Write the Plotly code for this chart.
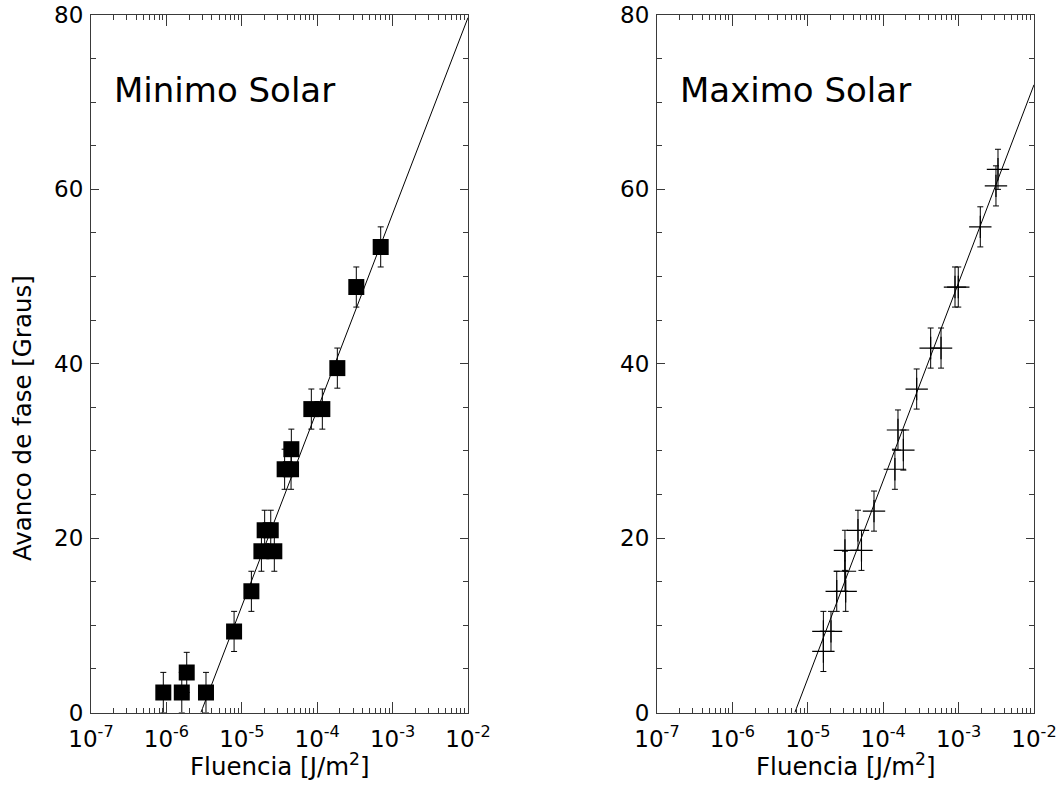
import numpy as np
import plotly.graph_objects as go

# ---- Minimo Solar: fluence [J/m^2] vs phase advance [degrees] ----
min_fluence = [9.1e-7, 1.6e-6, 1.86e-6, 3.35e-6, 7.9e-6, 1.34e-5, 1.82e-5, 2.7e-5,
               2.01e-5, 2.42e-5, 3.7e-5, 4.5e-5, 4.54e-5, 8.36e-5, 1.17e-4, 1.85e-4,
               3.3e-4, 6.95e-4]
min_phase = [2.3, 2.3, 4.6, 2.3, 9.3, 13.9, 18.5, 18.5, 20.9, 20.9, 27.9, 27.9,
             30.2, 34.8, 34.8, 39.5, 48.8, 53.4]
min_err = [2.3] * len(min_phase)
min_fit = (124.7, 22.5)  # intercept, slope per decade

# ---- Maximo Solar ----
max_fluence = [1.61e-5, 1.61e-5, 2.03e-5, 2.42e-5, 3.18e-5, 3.11e-5, 3.11e-5, 5.15e-5,
               4.63e-5, 7.55e-5, 1.43e-4, 1.57e-4, 1.85e-4, 2.78e-4, 4.26e-4, 5.85e-4,
               8.96e-4, 9.9e-4, 1.94e-3, 3.13e-3, 3.33e-3]
max_phase = [7.0, 9.3, 9.3, 13.9, 13.9, 16.2, 18.6, 18.6, 20.9, 23.1, 27.9, 32.4,
             30.1, 37.1, 41.8, 41.8, 48.8, 48.8, 55.7, 60.4, 62.3]
max_err = [2.3] * len(max_phase)
max_fit = (117.4, 22.7)

x_tickvals = [1e-7, 1e-6, 1e-5, 1e-4, 1e-3, 1e-2]
x_ticktext = ["10<sup>-7</sup>", "10<sup>-6</sup>", "10<sup>-5</sup>",
              "10<sup>-4</sup>", "10<sup>-3</sup>", "10<sup>-2</sup>"]
y_tickvals = [0, 20, 40, 60, 80]

FONT = "DejaVu Sans"
AX = "#3a3a3a"


def fit_line(fit, x_end=1e-2):
    a, b = fit
    lx = np.linspace(-a / b, np.log10(x_end), 50)
    return 10 ** lx, a + b * lx


fig = go.Figure()

# left panel
fig.add_trace(go.Scatter(
    x=min_fluence, y=min_phase, mode="markers",
    marker=dict(symbol="square", size=16, color="black"),
    error_y=dict(type="data", array=min_err, color="black", thickness=1, width=3),
    xaxis="x", yaxis="y", showlegend=False))
fx, fy = fit_line(min_fit)
fig.add_trace(go.Scatter(x=fx, y=fy, mode="lines", line=dict(color="black", width=1),
                         xaxis="x", yaxis="y", showlegend=False))

# right panel
fig.add_trace(go.Scatter(
    x=max_fluence, y=max_phase, mode="markers",
    marker=dict(symbol="cross-thin", size=16, color="black",
                line=dict(color="black", width=1.2)),
    error_y=dict(type="data", array=max_err, color="black", thickness=1, width=3),
    xaxis="x2", yaxis="y2", showlegend=False))
fx, fy = fit_line(max_fit)
fig.add_trace(go.Scatter(x=fx, y=fy, mode="lines", line=dict(color="black", width=1),
                         xaxis="x2", yaxis="y2", showlegend=False))

y_lo, y_hi = 1 - 712.5 / 785, 1 - 15 / 785


def xaxis(domain, anchor):
    return dict(domain=domain, anchor=anchor, type="log", range=[-7, -2],
                tickvals=x_tickvals, ticktext=x_ticktext, automargin=False,
                ticks="inside", ticklen=11, tickwidth=1, tickcolor=AX,
                minor=dict(ticks="inside", ticklen=5, tickwidth=1, tickcolor=AX, dtick="D1"),
                showline=True, linecolor=AX, linewidth=1, mirror="ticks",
                showgrid=False, zeroline=False, ticklabelstandoff=6,
                tickfont=dict(family=FONT, size=23, color="black"))


def yaxis(anchor):
    return dict(domain=[y_lo, y_hi], anchor=anchor, range=[0, 80], automargin=False,
                tickvals=y_tickvals, ticks="inside", ticklen=8, tickwidth=1, tickcolor=AX,
                minor=dict(ticks="inside", ticklen=5, tickwidth=1, tickcolor=AX, dtick=5),
                showline=True, linecolor=AX, linewidth=1, mirror="ticks",
                showgrid=False, zeroline=False, ticklabelstandoff=2,
                tickfont=dict(family=FONT, size=23, color="black"))


fig.update_layout(
    width=1059, height=785,
    margin=dict(l=0, r=0, t=0, b=0, autoexpand=False),
    paper_bgcolor="white", plot_bgcolor="white",
    xaxis=xaxis([91 / 1059, 468 / 1059], "y"),
    yaxis=yaxis("x"),
    xaxis2=xaxis([657 / 1059, 1034 / 1059], "y2"),
    yaxis2=yaxis("x2"),
)

ann_font = dict(family=FONT, size=24.5, color="black")
fig.add_annotation(text="Minimo Solar", xref="paper", yref="paper",
                   x=112 / 1059, y=1 - 90 / 785, xanchor="left", yanchor="middle",
                   showarrow=False, font=dict(family=FONT, size=34, color="black"))
fig.add_annotation(text="Maximo Solar", xref="paper", yref="paper",
                   x=678 / 1059, y=1 - 90 / 785, xanchor="left", yanchor="middle",
                   showarrow=False, font=dict(family=FONT, size=34, color="black"))
fig.add_annotation(text="Avanco de fase [Graus]", xref="paper", yref="paper",
                   x=22 / 1059, y=1 - 418 / 785, xanchor="center", yanchor="middle",
                   textangle=-90, showarrow=False, font=ann_font)
for cx in (279.5, 845.5):
    fig.add_annotation(text="Fluencia [J/m<sup>2</sup>]", xref="paper", yref="paper",
                       x=cx / 1059, y=1 - 765 / 785, xanchor="center", yanchor="middle",
                       showarrow=False, font=ann_font)

fig.write_html("out.html")
